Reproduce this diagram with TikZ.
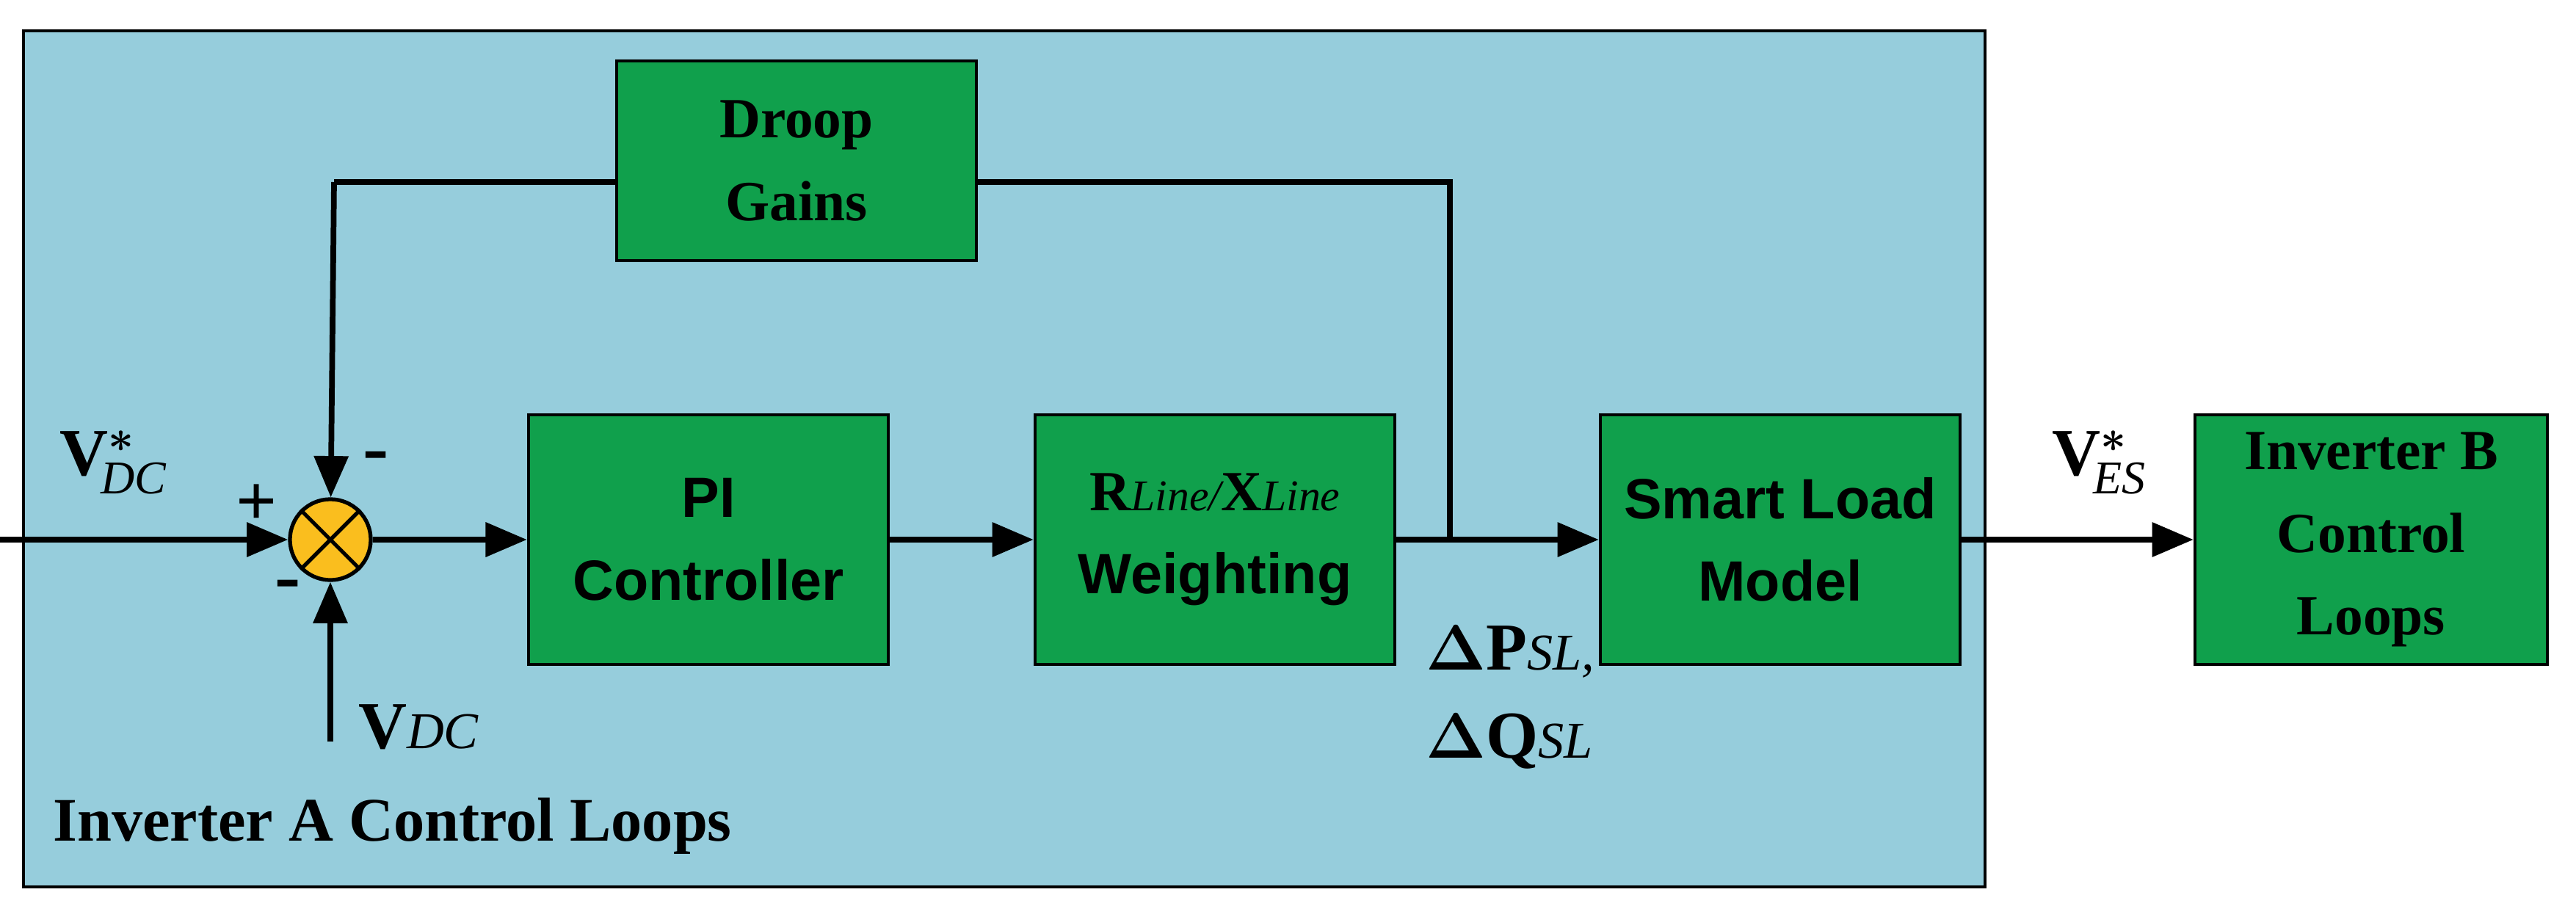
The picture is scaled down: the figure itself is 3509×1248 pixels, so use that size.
\documentclass[tikz,border=0pt]{standalone}
\usepackage{amsmath}
\usepackage{fontspec}
\setmainfont{Liberation Serif}
\newfontfamily\blockfont{Liberation Sans}
\usetikzlibrary{arrows.meta, positioning, shapes}
\definecolor{panel}{RGB}{150,205,220}
\definecolor{blockgreen}{RGB}{16,160,76}
\definecolor{sumorange}{RGB}{250,190,30}
\begin{document}
\begin{tikzpicture}[
    x=0.01cm, y=-0.01cm,
    block/.style={rectangle, draw, line width=1.2pt, fill=blockgreen, minimum height=3.4cm, minimum width=4.9cm, align=center, font=\fontsize{22}{26}\selectfont\bfseries},
    connector/.style={-{Triangle[length=16pt, width=13pt]}, line width=2.2pt},
    line/.style={line width=2.2pt},
    lbl/.style={font=\fontsize{26}{30}\selectfont},
    sub/.style={font=\fontsize{20}{24}\selectfont\itshape},
]
    \useasboundingbox (0,0) rectangle (3509,1248);
    % Panel
    \node[draw, line width=1.2pt, fill=panel, minimum width=26.7cm, minimum height=11.65cm, anchor=north west] (panel) at (30,40) {};

    % Blocks
    \node[block, minimum height=2.72cm] (droop) at (1085,219) {Droop\\[6pt]Gains};
    \node[block] (pi) at (965,735) {\blockfont PI\\[6pt]\blockfont Controller};
    \node[block] (rx) at (1655,735) {R{\mdseries\itshape\fontsize{17}{20}\selectfont Line/}X{\mdseries\itshape\fontsize{17}{20}\selectfont Line}\\[6pt]\blockfont Weighting};
    \node[block] (slm) at (2425,735) {\blockfont Smart Load\\[6pt]\blockfont Model};
    \node[block, minimum width=4.8cm] (invb) at (3230,735) {Inverter B\\[6pt]Control\\[6pt]Loops};

    % Summing junction
    \node[circle, draw, line width=1.5pt, fill=sumorange, minimum size=1.1cm, inner sep=0pt] (sum) at (450,735) {};
    \draw[line width=1.5pt] (sum.north west) -- (sum.south east) (sum.north east) -- (sum.south west);

    % Coordinates
    \coordinate (in) at (0,735);
    \coordinate (vdc) at (450,1010);
    \coordinate (dl) at (455,248);
    \coordinate (dr) at (1975,248);
    \coordinate (tap) at (1975,735);

    % Connections
    \draw[connector] (in) -- (sum);
    \draw[connector] (vdc) -- (sum);
    \draw[line] (droop.west |- dl) -- (dl);
    \draw[connector] (dl) -- (sum);
    \draw[line] (droop.east |- dr) -- (dr) -- (tap);
    \draw[connector] (sum) -- (pi);
    \draw[connector] (pi) -- (rx);
    \draw[connector] (rx) -- (slm);
    \draw[connector] (slm) -- (invb);

    % Labels
    \node[lbl] at (155,630) {\textbf{V}$^{\boldsymbol{*}}_{\!\textit{DC}}$};
    \node[lbl, font=\fontsize{28}{30}\selectfont\bfseries] at (350,688) {+};
    \node[lbl, font=\fontsize{30}{32}\selectfont\bfseries] at (512,630) {-};
    \node[lbl, font=\fontsize{30}{32}\selectfont\bfseries] at (392,805) {-};
    \node[lbl] at (570,990) {\textbf{V}{\fontsize{20}{24}\selectfont\itshape DC}};
    \node[lbl, align=left, anchor=north west] at (1930,840) {\textbf{$\boldsymbol{\Delta}$P}{\fontsize{20}{24}\selectfont\itshape SL,}\\[4pt]\textbf{$\boldsymbol{\Delta}$Q}{\fontsize{20}{24}\selectfont\itshape SL}};
    \node[lbl] at (2860,630) {\textbf{V}$^{\boldsymbol{*}}_{\!\textit{ES}}$};
    \node[lbl, font=\fontsize{24}{28}\selectfont\bfseries, anchor=west] at (60,1125) {Inverter A Control Loops};
\end{tikzpicture}
\end{document}
